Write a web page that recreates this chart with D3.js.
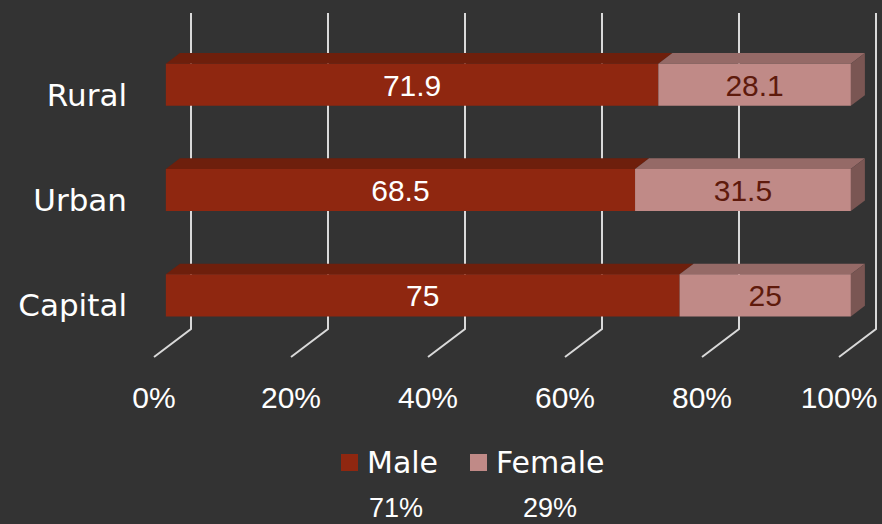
<!DOCTYPE html>
<html>
<head>
<meta charset="utf-8">
<script src="https://cdn.jsdelivr.net/npm/d3@7"></script>
<style>
	html, body { margin: 0; padding: 0; background: #333333; }
	svg { display: block; }
	text { font-family: "DejaVu Sans", sans-serif; }
	text.num { font-family: "Liberation Sans", Arial, sans-serif; }
</style>
</head>
<body>
<div class="chart"></div>
<script>
// DATA
var categories = ["Rural", "Urban", "Capital"];
var male = [71.9, 68.5, 75];
var female = [28.1, 31.5, 25];
var series = ["Male", "Female"];
var shares = ["71%", "29%"];
var ticks = [0, 20, 40, 60, 80, 100];

// LAYOUT
var width = 882, height = 524;
var DX = 37, DY = 28;          // 3d depth offset (front of floor -> back wall)
var d0 = 0.32, d1 = 0.70;      // bar depth slice
var colors = {
	Male: { front: "#8f2710", top: "#6e1f0c", side: "#5a190a", label: "#ffffff" },
	Female: { front: "#c08a87", top: "#956a67", side: "#7a5653", label: "#5e1a0c" }
};

var svg = d3.select(".chart")
	.append("svg")
	.attr("width", width)
	.attr("height", height);

svg.append("rect")
	.attr("width", width)
	.attr("height", height)
	.attr("fill", "#333333");

var x = d3.scaleLinear()
	.domain([0, 100])
	.range([154, 839]);

var y = d3.scaleBand()
	.domain(categories)
	.range([41, 357])
	.paddingInner(0.6)
	.paddingOuter(0.3);

var yTop = 41, yBottom = 357;

function px(v, d) { return x(v) + DX * d; }
function py(yy, d) { return yy - DY * d; }

// gridlines on back wall + floor
svg.append("g")
	.attr("class", "grid")
	.selectAll("path")
	.data(ticks)
	.enter().append("path")
		.attr("fill", "none")
		.attr("stroke", "#d9d9d9")
		.attr("stroke-width", 2)
		.attr("d", function(t) {
			return "M" + px(t, 1) + "," + py(yTop, 1) +
				"L" + px(t, 1) + "," + py(yBottom, 1) +
				"L" + px(t, 0) + "," + yBottom;
		});

// tick labels
svg.append("g")
	.attr("class", "ticks")
	.selectAll("text")
	.data(ticks)
	.enter().append("text")
		.attr("class", "num")
		.attr("x", function(t) { return x(t); })
		.attr("y", 408)
		.attr("text-anchor", "middle")
		.attr("fill", "#ffffff")
		.style("font-size", "30px")
		.text(function(t) { return t + "%"; });

// category labels
svg.append("g")
	.attr("class", "cats")
	.selectAll("text")
	.data(categories)
	.enter().append("text")
		.attr("x", 127)
		.attr("y", function(c) { return y(c) + y.bandwidth() / 2 + 1; })
		.attr("dy", "0.35em")
		.attr("text-anchor", "end")
		.attr("fill", "#ffffff")
		.style("font-size", "31px")
		.text(function(c) { return c; });

// bars
var segs = [];
categories.forEach(function(c, i) {
	var vals = [male[i], female[i]];
	var start = 0;
	vals.forEach(function(v, j) {
		segs.push({ cat: c, key: series[j], a: start, b: start + v, v: v, last: j == vals.length - 1 });
		start += v;
	});
});

function poly(pts) {
	return "M" + pts.map(function(p) { return p[0] + "," + p[1]; }).join("L") + "Z";
}

var bars = svg.append("g").attr("class", "bars");

segs.forEach(function(s) {
	var t = y(s.cat), b = y(s.cat) + y.bandwidth();
	var g = bars.append("g");
	g.append("path")
		.attr("fill", colors[s.key].top)
		.attr("d", poly([
			[px(s.a, d0), py(t, d0)], [px(s.b, d0), py(t, d0)],
			[px(s.b, d1), py(t, d1)], [px(s.a, d1), py(t, d1)]
		]));
	if (s.last) {
		g.append("path")
			.attr("fill", colors[s.key].side)
			.attr("d", poly([
				[px(s.b, d0), py(t, d0)], [px(s.b, d1), py(t, d1)],
				[px(s.b, d1), py(b, d1)], [px(s.b, d0), py(b, d0)]
			]));
	}
	g.append("path")
		.attr("fill", colors[s.key].front)
		.attr("d", poly([
			[px(s.a, d0), py(t, d0)], [px(s.b, d0), py(t, d0)],
			[px(s.b, d0), py(b, d0)], [px(s.a, d0), py(b, d0)]
		]));
	g.append("text")
		.attr("class", "num")
		.attr("x", (px(s.a, d0) + px(s.b, d0)) / 2)
		.attr("y", (py(t, d0) + py(b, d0)) / 2)
		.attr("dy", "0.36em")
		.attr("text-anchor", "middle")
		.attr("fill", colors[s.key].label)
		.style("font-size", "30px")
		.text(s.v);
});

// legend
var legendX = [341, 470];
var legend = svg.append("g").attr("class", "legend");
series.forEach(function(k, i) {
	legend.append("rect")
		.attr("x", legendX[i])
		.attr("y", 454)
		.attr("width", 17)
		.attr("height", 17)
		.attr("fill", colors[k].front);
	legend.append("text")
		.attr("x", legendX[i] + 26)
		.attr("y", 473)
		.attr("fill", "#ffffff")
		.style("font-size", "30px")
		.text(k);
});
legend.selectAll(".share")
	.data(shares)
	.enter().append("text")
		.attr("class", "num")
		.attr("x", function(d, i) { return [396, 550][i]; })
		.attr("y", 517)
		.attr("text-anchor", "middle")
		.attr("fill", "#ffffff")
		.style("font-size", "27px")
		.text(function(d) { return d; });
</script>
</body>
</html>
